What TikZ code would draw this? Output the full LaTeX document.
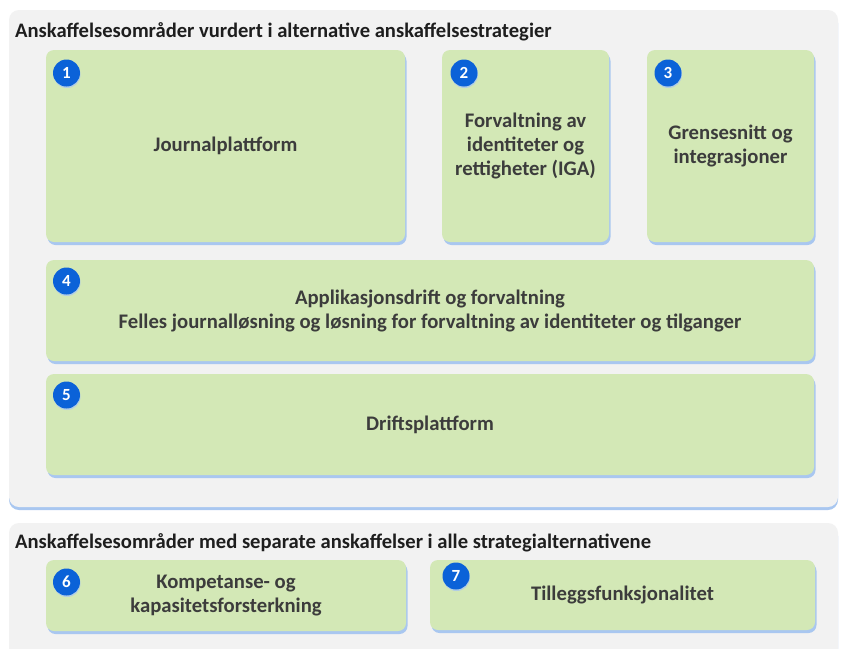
\documentclass[tikz,border=0pt]{standalone}
\usepackage{fontspec}
\setmainfont{Carlito}
\usetikzlibrary{shadows}
\definecolor{panelgray}{HTML}{F2F2F2}
\definecolor{boxgreen}{HTML}{D3E8B6}
\definecolor{shadeblue}{HTML}{A9C7F0}
\definecolor{badgeblue}{HTML}{0B62D8}
\definecolor{boxtext}{HTML}{3C3C3C}
\definecolor{titletext}{HTML}{1E1E1E}
\tikzset{
  panel/.style={fill=panelgray, draw=none, rounded corners=10pt,
    drop shadow={shadow xshift=0pt, shadow yshift=-3pt, fill=shadeblue, opacity=1}},
  area/.style={fill=boxgreen, draw=none, rounded corners=8pt, inner sep=0pt,
    align=center, text=boxtext, font=\bfseries\fontsize{20.7}{24}\selectfont,
    drop shadow={shadow xshift=1.5pt, shadow yshift=-3pt, fill=shadeblue, opacity=1}},
  badge/.style={circle, fill=badgeblue, draw=none, minimum size=27pt, inner sep=0pt,
    text=white, font=\bfseries\fontsize{17}{17}\selectfont,
    drop shadow={shadow xshift=0.5pt, shadow yshift=-1.5pt, fill=shadeblue, opacity=0.8}},
  heading/.style={anchor=base west, inner sep=0pt, text=titletext,
    font=\bfseries\fontsize{20.6}{24}\selectfont}
}
\begin{document}
\begin{tikzpicture}[x=1pt, y=-1pt]
  \useasboundingbox (0,0) rectangle (843,648);
  \fill[white] (0,0) rectangle (843,648);

  % group panels
  \node[panel, minimum width=829pt, minimum height=497pt] (top) at (423.5,258.5) {};
  \node[panel, minimum width=829pt, minimum height=140pt] (bottom) at (423.5,593) {};

  \node[heading] (t1) at (15,37) {Anskaffelsesområder vurdert i alternative anskaffelsestrategier};
  \node[heading] (t2) at (15,548) {Anskaffelsesområder med separate anskaffelser i alle strategialternativene};

  % procurement areas
  \node[area, minimum width=359pt, minimum height=192pt] (a1) at (225.5,146) {Journalplattform};
  \node[area, minimum width=167pt, minimum height=192pt] (a2) at (525.5,146)
    {Forvaltning av\\identiteter og\\rettigheter (IGA)};
  \node[area, minimum width=167pt, minimum height=192pt] (a3) at (730.5,146)
    {Grensesnitt og\\integrasjoner};
  \node[area, minimum width=768pt, minimum height=101pt] (a4) at (430,310.5)
    {Applikasjonsdrift og forvaltning\\Felles journalløsning og løsning for forvaltning av identiteter og tilganger};
  \node[area, minimum width=768pt, minimum height=101pt] (a5) at (430,424.5) {Driftsplattform};
  \node[area, minimum width=360pt, minimum height=71pt] (a6) at (226,595.5)
    {Kompetanse- og\\kapasitetsforsterkning};
  \node[area, minimum width=385pt, minimum height=70pt] (a7) at (622.5,595) {Tilleggsfunksjonalitet};

  % numbered badges
  \node[badge] (b1) at (66.5,73) {1};
  \node[badge] (b2) at (464,73) {2};
  \node[badge] (b3) at (668,73) {3};
  \node[badge] (b4) at (66.5,281) {4};
  \node[badge] (b5) at (66.5,395) {5};
  \node[badge] (b6) at (66.5,582) {6};
  \node[badge] (b7) at (456,576) {7};
\end{tikzpicture}
\end{document}
